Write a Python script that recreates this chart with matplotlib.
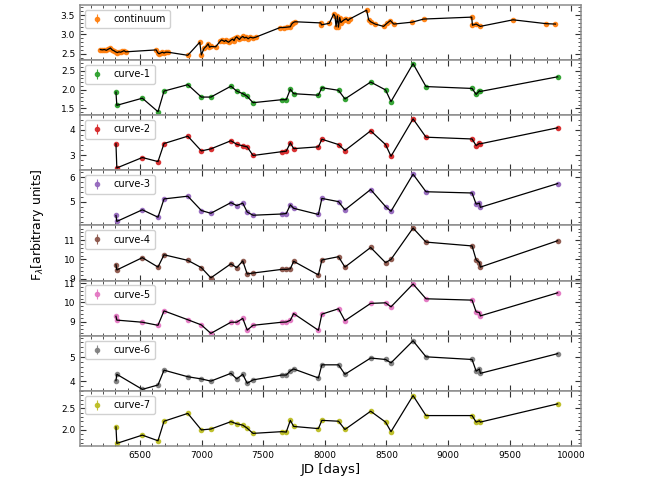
import matplotlib
matplotlib.use('Agg')
import matplotlib.pyplot as plt
from matplotlib.ticker import MultipleLocator, AutoMinorLocator
import numpy as np

# continuum light curve (JD, flux)
jd_cont = [6178, 6194, 6211, 6227, 6244, 6260, 6274, 6288, 6302, 6316, 6329, 6343,
           6357, 6371, 6384,
           6632, 6643, 6654, 6668, 6682, 6695, 6709, 6728,
           6888, 6985, 6998, 7020, 7040, 7053, 7064, 7078, 7114,
           7152, 7163, 7174, 7185, 7196, 7207, 7219, 7230, 7241, 7252, 7263, 7274,
           7285, 7296, 7307, 7320, 7334, 7348, 7362, 7378, 7395, 7417, 7439,
           7637, 7665, 7692, 7720, 7731, 7744, 7758,
           7967, 7973, 8036, 8072, 8083, 8091, 8102, 8110, 8121, 8130, 8141, 8152,
           8163, 8174, 8188, 8201,
           8339, 8356, 8372, 8408, 8477, 8504, 8532, 8559,
           8711, 8802, 9192, 9198, 9228, 9261, 9528, 9797, 9872]
f_cont = [2.61, 2.60, 2.61, 2.59, 2.62, 2.65, 2.60, 2.58, 2.55, 2.53, 2.55, 2.54,
          2.56, 2.58, 2.55,
          2.60, 2.53, 2.50, 2.52, 2.54, 2.52, 2.54, 2.54,
          2.46, 2.80, 2.47, 2.64, 2.70, 2.76, 2.67, 2.69, 2.68,
          2.83, 2.86, 2.84, 2.82, 2.85, 2.82, 2.80, 2.83, 2.86, 2.88, 2.84, 2.91,
          2.94, 2.90, 2.87, 2.92, 2.95, 2.91, 2.93, 2.89, 2.93, 2.91, 2.93,
          3.18, 3.18, 3.19, 3.20, 3.27, 3.31, 3.33,
          3.30, 3.25, 3.29, 3.53, 3.47, 3.20, 3.48, 3.19, 3.44, 3.31, 3.34, 3.37,
          3.39, 3.41, 3.36, 3.40,
          3.63, 3.38, 3.33, 3.27, 3.21, 3.29, 3.36, 3.27,
          3.32, 3.40, 3.45, 3.24, 3.27, 3.21, 3.38, 3.28, 3.27]

# epochs shared by the line curves
jd_lines = [6305, 6312, 6519, 6646, 6695, 6888, 6998, 7075, 7238, 7285, 7334, 7370,
            7417, 7651, 7687, 7720, 7747, 7948, 7976, 8111, 8163, 8372, 8493, 8537,
            8716, 8821, 9195, 9228, 9255, 9262, 9889]

curve1 = [1.93, 1.58, 1.77, 1.41, 1.96, 2.13, 1.80, 1.80, 2.09, 1.96, 1.89, 1.82,
          1.65, 1.73, 1.73, 2.01, 1.89, 1.85, 2.05, 1.98, 1.75, 2.20, 1.99, 1.68,
          2.69, 2.08, 2.03, 1.87, 1.97, 1.95, 2.34]
curve2 = [3.45, 2.50, 2.91, 2.75, 3.46, 3.75, 3.17, 3.25, 3.57, 3.43, 3.37, 3.33,
          2.99, 3.14, 3.16, 3.49, 3.26, 3.33, 3.63, 3.42, 3.18, 3.96, 3.42, 2.96,
          4.43, 3.71, 3.64, 3.38, 3.47, 3.45, 4.08]
curve3 = [4.45, 4.21, 4.68, 4.38, 5.12, 5.23, 4.65, 4.54, 4.97, 4.85, 4.95, 4.59,
          4.46, 4.51, 4.53, 4.88, 4.74, 4.49, 5.14, 5.01, 4.68, 5.50, 4.81, 4.62,
          6.12, 5.41, 5.36, 4.91, 4.95, 4.78, 5.74]
curve4 = [9.72, 9.45, 10.09, 9.60, 10.24, 9.95, 9.57, 9.04, 9.77, 9.57, 9.92, 9.24,
          9.29, 9.48, 9.48, 9.51, 9.90, 9.19, 9.97, 10.14, 9.60, 10.62, 9.83, 10.00,
          11.63, 10.90, 10.70, 9.98, 9.83, 9.60, 10.97]
curve5 = [9.28, 9.08, 8.97, 8.81, 9.56, 9.10, 8.83, 8.39, 8.97, 8.97, 9.17, 8.56,
          8.81, 8.97, 8.98, 9.07, 9.42, 8.55, 9.39, 9.67, 9.05, 9.95, 9.98, 9.77,
          10.96, 10.19, 10.12, 9.51, 9.47, 9.30, 10.50]
curve6 = [4.03, 4.29, 3.67, 3.85, 4.46, 4.19, 4.10, 4.01, 4.33, 4.10, 4.29, 3.92,
          4.06, 4.26, 4.26, 4.43, 4.51, 4.14, 4.68, 4.68, 4.29, 4.96, 4.90, 4.76,
          5.67, 5.01, 4.90, 4.42, 4.51, 4.33, 5.14]
curve7 = [2.07, 1.69, 1.88, 1.75, 2.20, 2.38, 2.00, 2.02, 2.19, 2.14, 2.11, 2.04,
          1.92, 1.96, 1.95, 2.22, 2.08, 2.03, 2.22, 2.20, 2.01, 2.43, 2.18, 1.96,
          2.79, 2.33, 2.33, 2.18, 2.21, 2.18, 2.60]

labels = ['continuum', 'curve-1', 'curve-2', 'curve-3', 'curve-4', 'curve-5',
          'curve-6', 'curve-7']
errs = [0.02, 0.02, 0.04, 0.04, 0.05, 0.05, 0.04, 0.02]
ylims = [(2.34, 3.77), (1.32, 2.79), (2.41, 4.58), (4.05, 6.28), (8.90, 11.77),
         (8.27, 11.14), (3.61, 5.88), (1.63, 2.90)]
ysteps = [0.5, 0.5, 1, 1, 1, 1, 1, 0.5]

series = [(jd_cont, f_cont)] + [(jd_lines, c) for c in
                                [curve1, curve2, curve3, curve4, curve5, curve6, curve7]]

fig, axes = plt.subplots(8, 1, sharex=True, figsize=(6.54, 4.78), dpi=100)
fig.subplots_adjust(left=0.1223, right=0.888, top=0.990, bottom=0.067, hspace=0)

for i, ax in enumerate(axes):
    x, y = series[i]
    ax.errorbar(x, y, yerr=errs[i], fmt='o', ms=3.0, color='C%d' % (i + 1),
                elinewidth=0.8, alpha=0.9, label=labels[i], zorder=2)
    ax.plot(x, y, '-', color='k', lw=0.9, zorder=3)
    ax.set_ylim(ylims[i])
    ax.yaxis.set_major_locator(MultipleLocator(ysteps[i]))
    ax.yaxis.set_minor_locator(AutoMinorLocator())
    ax.xaxis.set_major_locator(MultipleLocator(500))
    ax.xaxis.set_minor_locator(MultipleLocator(100))
    ax.tick_params(which='both', direction='in', top=True, right=True,
                   labelsize=6.5, color='0.2')
    ax.tick_params(which='major', length=4, width=0.8)
    ax.tick_params(which='minor', length=2, width=0.6)
    for sp in ax.spines.values():
        sp.set_color('0.55')
        sp.set_linewidth(1.1)
    ax.legend(loc='upper left', fontsize=7, handlelength=1.5, handletextpad=1.0,
              borderpad=0.45, framealpha=0.9)

axes[-1].set_xlim(6013, 10077)
axes[-1].set_xlabel('JD [days]', fontsize=9.5, labelpad=2)
fig.text(0.057, 0.53, r'F$_\lambda$[arbitrary units]', rotation=90,
         ha='center', va='center', fontsize=9)

plt.savefig('out.png', dpi=100)
